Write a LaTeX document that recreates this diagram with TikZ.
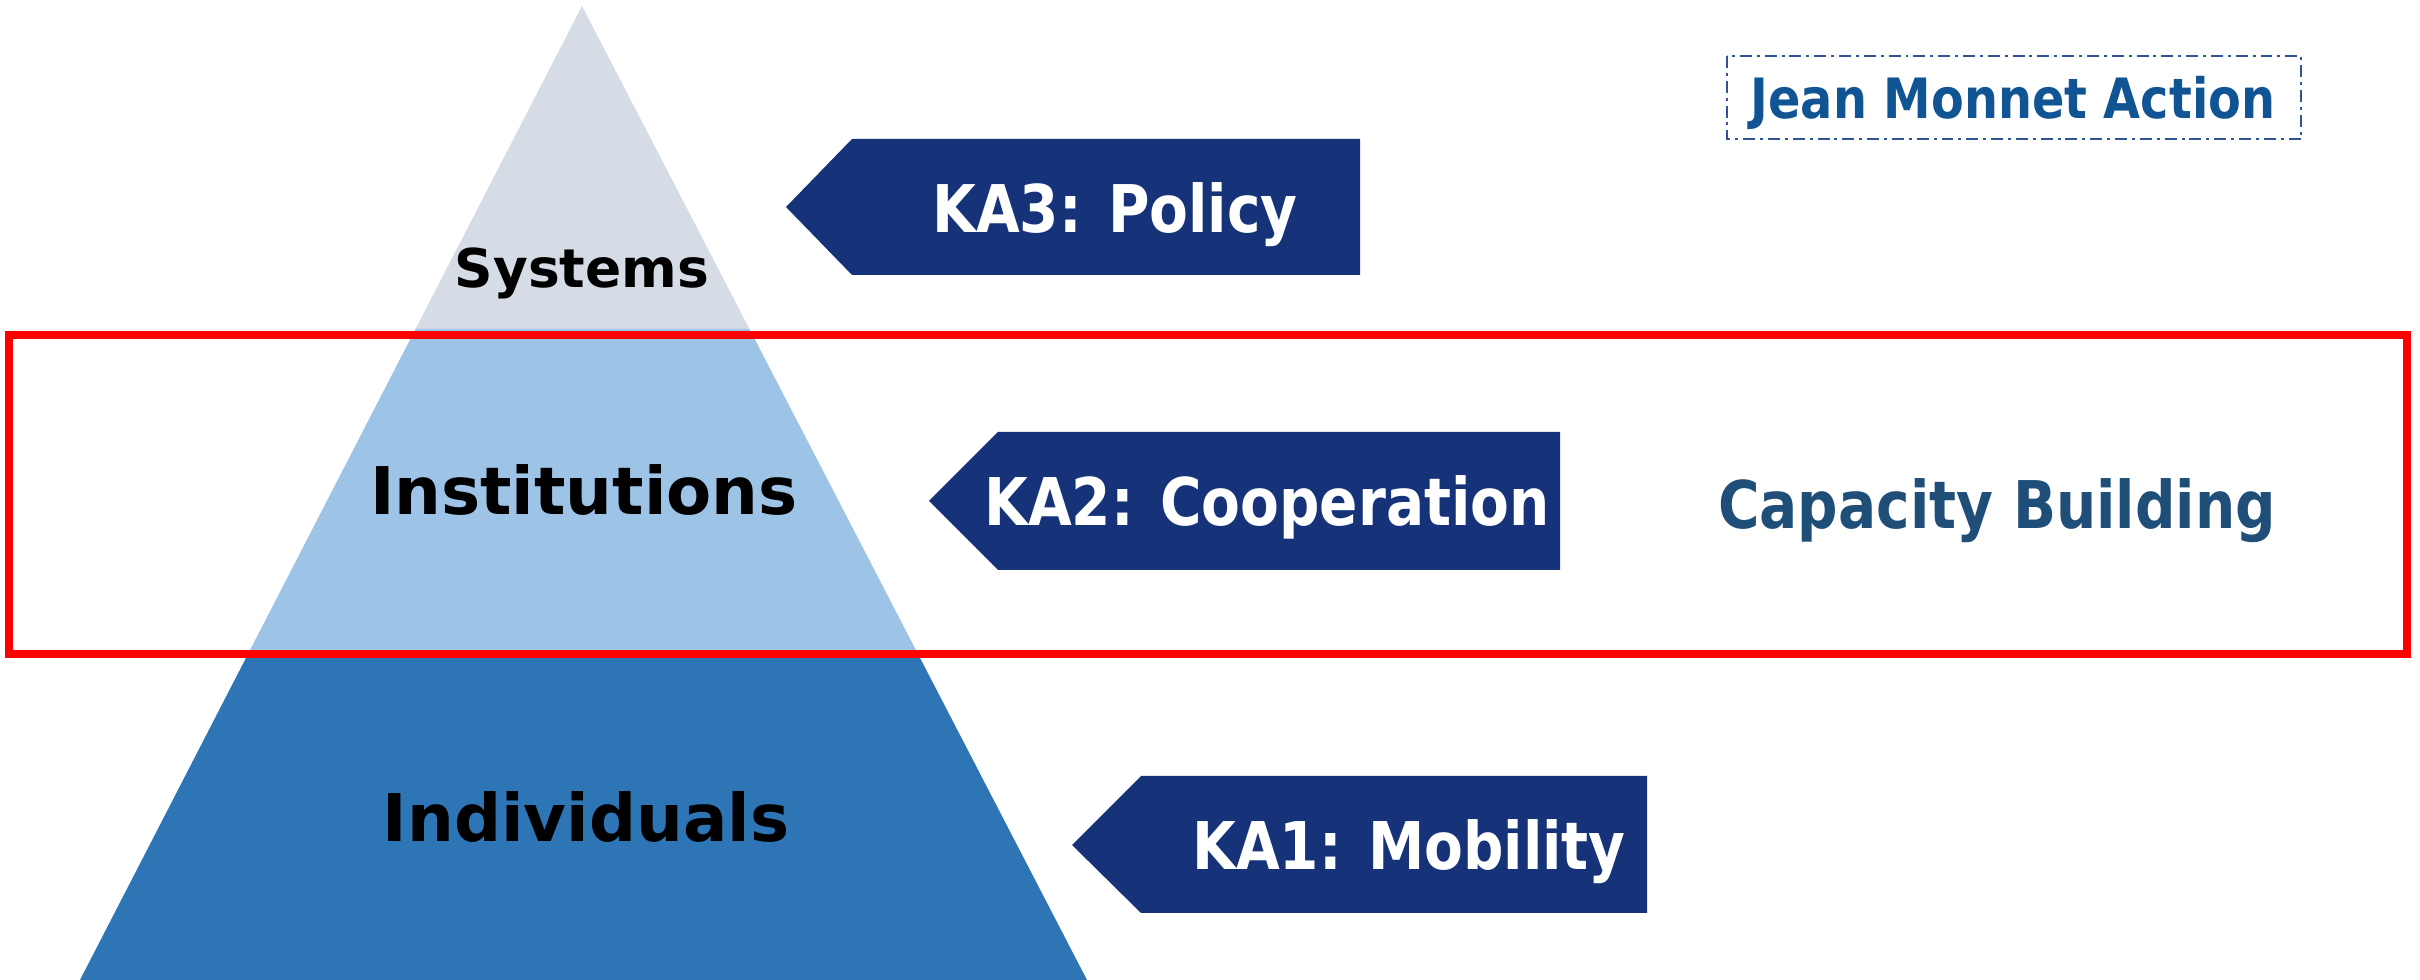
\documentclass[tikz,border=0pt]{standalone}
\usepackage{fontspec}
\setmainfont{DejaVu Sans}
\newfontfamily\narrowfont[FakeStretch=0.86]{DejaVu Sans}
\usepackage{tikz}
\usetikzlibrary{calc}
\definecolor{sysgray}{RGB}{214,220,229}
\definecolor{instblue}{RGB}{157,195,230}
\definecolor{indblue}{RGB}{46,117,182}
\definecolor{kanavy}{RGB}{22,51,122}
\definecolor{jmblue}{RGB}{16,84,148}
\definecolor{jmline}{RGB}{47,85,151}
\definecolor{capblue}{RGB}{31,78,121}
\tikzset{
	tierlabel/.style={font=\fontsize{18.7}{22}\selectfont\bfseries, text=black, anchor=base, inner sep=0pt},
	kalabel/.style={font=\narrowfont\fontsize{18.7}{22}\selectfont\bfseries, text=white, anchor=base, inner sep=0pt},
	kaarrow/.style={fill=kanavy}
}

\begin{document}
\begin{tikzpicture}[x=0.01cm,y=-0.01cm]
			\useasboundingbox (0,0) rectangle (2420,980);
			\coordinate (A) at (582,6);
			\coordinate (L) at (80,980);
			\coordinate (R) at (1087,980);
			\coordinate (L1) at ($(A)!0.3316!(L)$);
			\coordinate (R1) at ($(A)!0.3316!(R)$);
			\coordinate (L2) at ($(A)!0.6674!(L)$);
			\coordinate (R2) at ($(A)!0.6674!(R)$);
			\fill[sysgray] (A)--(L1)--(R1)--cycle;
			\fill[instblue] (L1)--(L2)--(R2)--(R1)--cycle;
			\fill[indblue] (L2)--(L)--(R)--(R2)--cycle;
			
			\fill[kaarrow] (786,207)--(852,139)--(1360,139)--(1360,275)--(852,275)--cycle;
			\fill[kaarrow] (929,501)--(998,432)--(1560,432)--(1560,570)--(998,570)--cycle;
			\fill[kaarrow] (1072,845)--(1141,776)--(1647,776)--(1647,913)--(1141,913)--cycle;
			
			\draw[red, line width=2.3pt] (9,335) rectangle (2407,654);
			\draw[jmline, line width=0.6pt, dash pattern=on 3.4pt off 1.4pt on 0.85pt off 1.4pt] (1727,56) rectangle (2301,139);
			
			\node[tierlabel, font=\fontsize{15.2}{18}\selectfont\bfseries] (sys) at (582,288) {Systems};
			\node[tierlabel] (inst) at (584,515) {Institutions};
			\node[tierlabel] (ind) at (586,842) {Individuals};
			
			\node[kalabel] (ka3) at (1115,233) {KA3: Policy};
			\node[kalabel] (ka2) at (1267,526) {KA2: Cooperation};
			\node[kalabel] (ka1) at (1409,870) {KA1: Mobility};
			
			\node[kalabel, text=capblue] (cap) at (1997,529) {Capacity Building};
			\node[kalabel, text=jmblue, font=\narrowfont\fontsize{15.8}{19}\selectfont\bfseries] (jm) at (2013,119) {Jean Monnet Action};
		\end{tikzpicture}
\end{document}
